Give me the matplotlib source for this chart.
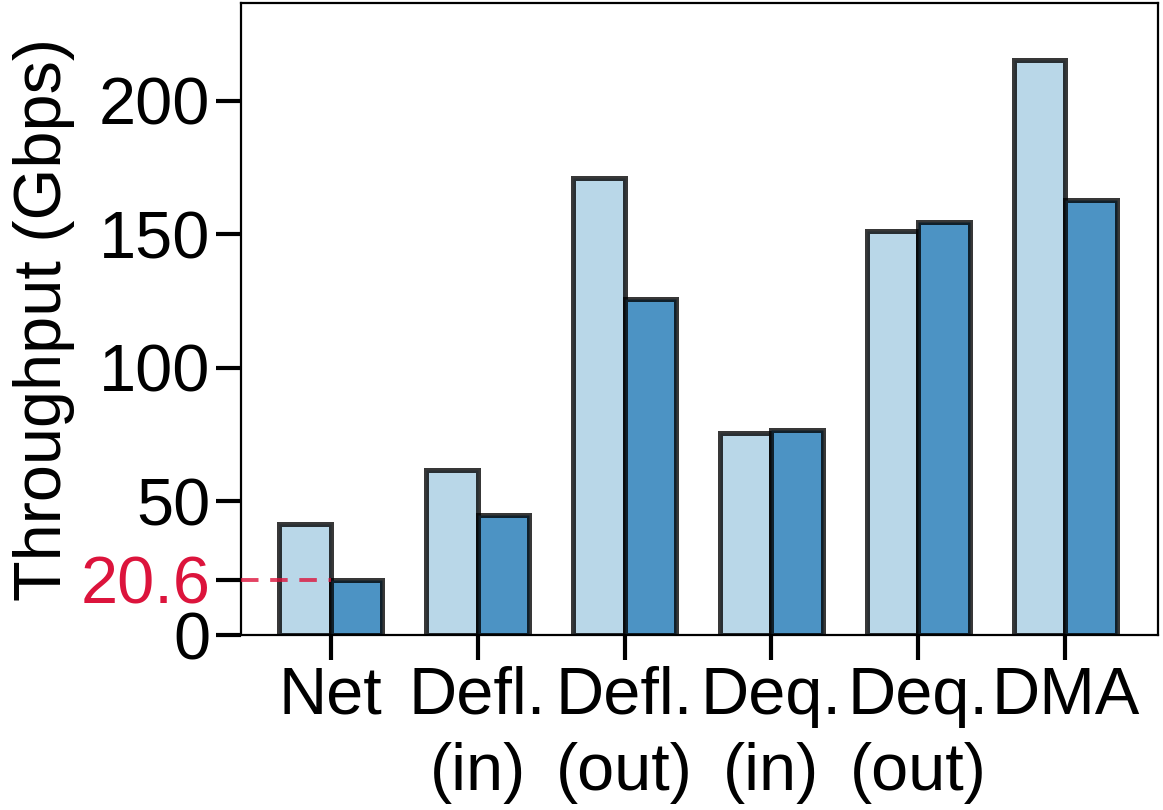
import matplotlib.pyplot as plt
import numpy as np

plt.rcParams['font.family'] = ['Liberation Sans', 'DejaVu Sans']

# Throughput per engine (Gbps)
categories = ['Net', 'Defl.\n(in)', 'Defl.\n(out)', 'Deq.\n(in)', 'Deq.\n(out)', 'DMA']
light_vals = [41.6, 61.8, 171.2, 75.7, 151.2, 215.2]
dark_vals = [20.6, 45.0, 125.8, 76.8, 154.5, 162.9]
ref_value = 20.6

light_color = '#b9d7e8'
dark_color = '#4c93c4'
ref_color = 'crimson'

fig = plt.figure(figsize=(11.63, 8.10), dpi=100)
ax = fig.add_axes([0.2072, 0.216, 0.7885, 0.7803])

x = np.arange(len(categories))
width = 0.35
edge = (0, 0, 0, 0.78)
ax.bar(x - width / 2, light_vals, width, color=light_color, edgecolor=edge, linewidth=3.6)
ax.bar(x + width / 2, dark_vals, width, color=dark_color, edgecolor=edge, linewidth=3.6)

# dashed reference line from the axis to the first group
ax.plot([-0.61, x[0]], [ref_value, ref_value], color=ref_color, alpha=0.8,
        linestyle=(0, (4.5, 3)), linewidth=2.8, zorder=3)

ax.set_xlim(-0.61, 5.63)
ax.set_ylim(0, 236.5)
ax.set_xticks(x)
ax.set_xticklabels(categories, fontsize=48, linespacing=1.3)
yticks = [0, ref_value, 50, 100, 150, 200]
ax.set_yticks(yticks)
ax.set_yticklabels(['0', '20.6', '50', '100', '150', '200'], fontsize=48)
ax.get_yticklabels()[1].set_color(ref_color)
ax.tick_params(axis='both', length=18, width=3, pad=4)
ax.set_ylabel('Throughput (Gbps)', fontsize=48, labelpad=4)

for sp in ax.spines.values():
    sp.set_linewidth(1.6)

fig.savefig('out.png', dpi=100)
